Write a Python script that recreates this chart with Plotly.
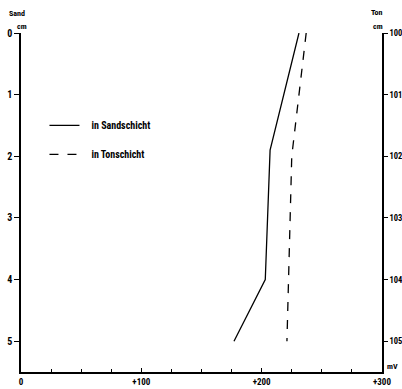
import plotly.graph_objects as go

# data
sand_depth = [0.0, 1.9, 4.0, 5.0]
sand_mv = [231, 207, 203, 177]
ton_depth = [0.0, 2.0, 5.0]
ton_mv = [237, 225, 221]

x_tickvals = [0, 100, 200, 300]
x_ticktext = ["0", "+100", "+200", "+300"]
left_tickvals = [0, 1, 2, 3, 4, 5]
left_ticktext = ["0", "1", "2", "3", "4", "5"]
right_ticktext = ["100", "101", "102", "103", "104", "105"]

FONT = "Liberation Sans Narrow, Arial Narrow, Roboto Condensed, sans-serif"
NB = "\u00a0\u00a0\u00a0"

fig = go.Figure()
fig.add_trace(go.Scatter(x=sand_mv, y=sand_depth, mode="lines", name=NB + "in Sandschicht",
                         line=dict(color="black", width=1.3), legendgroup="a"))
fig.add_trace(go.Scatter(x=ton_mv, y=ton_depth, mode="lines", name=NB + "in Tonschicht",
                         line=dict(color="black", width=1.3, dash="dash"), legendgroup="b"))
# invisible trace to anchor right axis
fig.add_trace(go.Scatter(x=[None], y=[None], yaxis="y2", showlegend=False, hoverinfo="skip"))

fig.update_layout(
    width=402, height=389,
    margin=dict(l=21, r=20, t=33, b=17),
    paper_bgcolor="white", plot_bgcolor="white",
    font=dict(family=FONT, size=10, color="black", weight="bold"),
    showlegend=True,
    legend=dict(x=0.065, y=0.77, xanchor="left", yanchor="top", bgcolor="rgba(0,0,0,0)",
                font=dict(family=FONT, size=10, color="black", weight="bold"),
                tracegroupgap=10, itemwidth=30),
    xaxis=dict(range=[0, 300], tickvals=x_tickvals, ticktext=x_ticktext, automargin=False,
               showgrid=False, zeroline=False, showline=True, linecolor="black", linewidth=1.5,
               ticks="inside", ticklen=4, tickcolor="black", tickwidth=1.2,
               minor=dict(dtick=25, ticks="inside", ticklen=3, tickcolor="black", tickwidth=1.2),
               tickfont=dict(family=FONT, size=9, weight="bold")),
    yaxis=dict(range=[5.5, 0], tickvals=left_tickvals, ticktext=left_ticktext, automargin=False,
               showgrid=False, zeroline=False, showline=True, linecolor="black", linewidth=1.5,
               ticks="outside", ticklen=5, tickcolor="black", tickwidth=1.2,
               tickfont=dict(family=FONT, size=10, weight="bold")),
    yaxis2=dict(range=[5.5, 0], overlaying="y", side="right", tickvals=left_tickvals,
                ticktext=right_ticktext, automargin=False,
                showgrid=False, zeroline=False, showline=True, linecolor="black", linewidth=1.5,
                ticks="outside", ticklen=4, tickcolor="black", tickwidth=1.2,
                tickfont=dict(family=FONT, size=8.5, weight="bold")),
)

ann_font = dict(family=FONT, size=8, color="black", weight="bold")
ann = [("Sand", -0.011, 20), ("cm", 0.003, 7), ("Ton", 0.986, 21), ("cm", 0.989, 7)]
for txt, xp, ys in ann:
    fig.add_annotation(x=xp, y=1.0, xref="paper", yref="paper", text=txt, showarrow=False,
                       xanchor="center", yanchor="middle", yshift=ys, font=ann_font)
fig.add_annotation(x=1.028, y=0.0, xref="paper", yref="paper", text="mV", showarrow=False,
                   xanchor="center", yanchor="middle", yshift=6, font=ann_font)

fig.write_html("out.html")
